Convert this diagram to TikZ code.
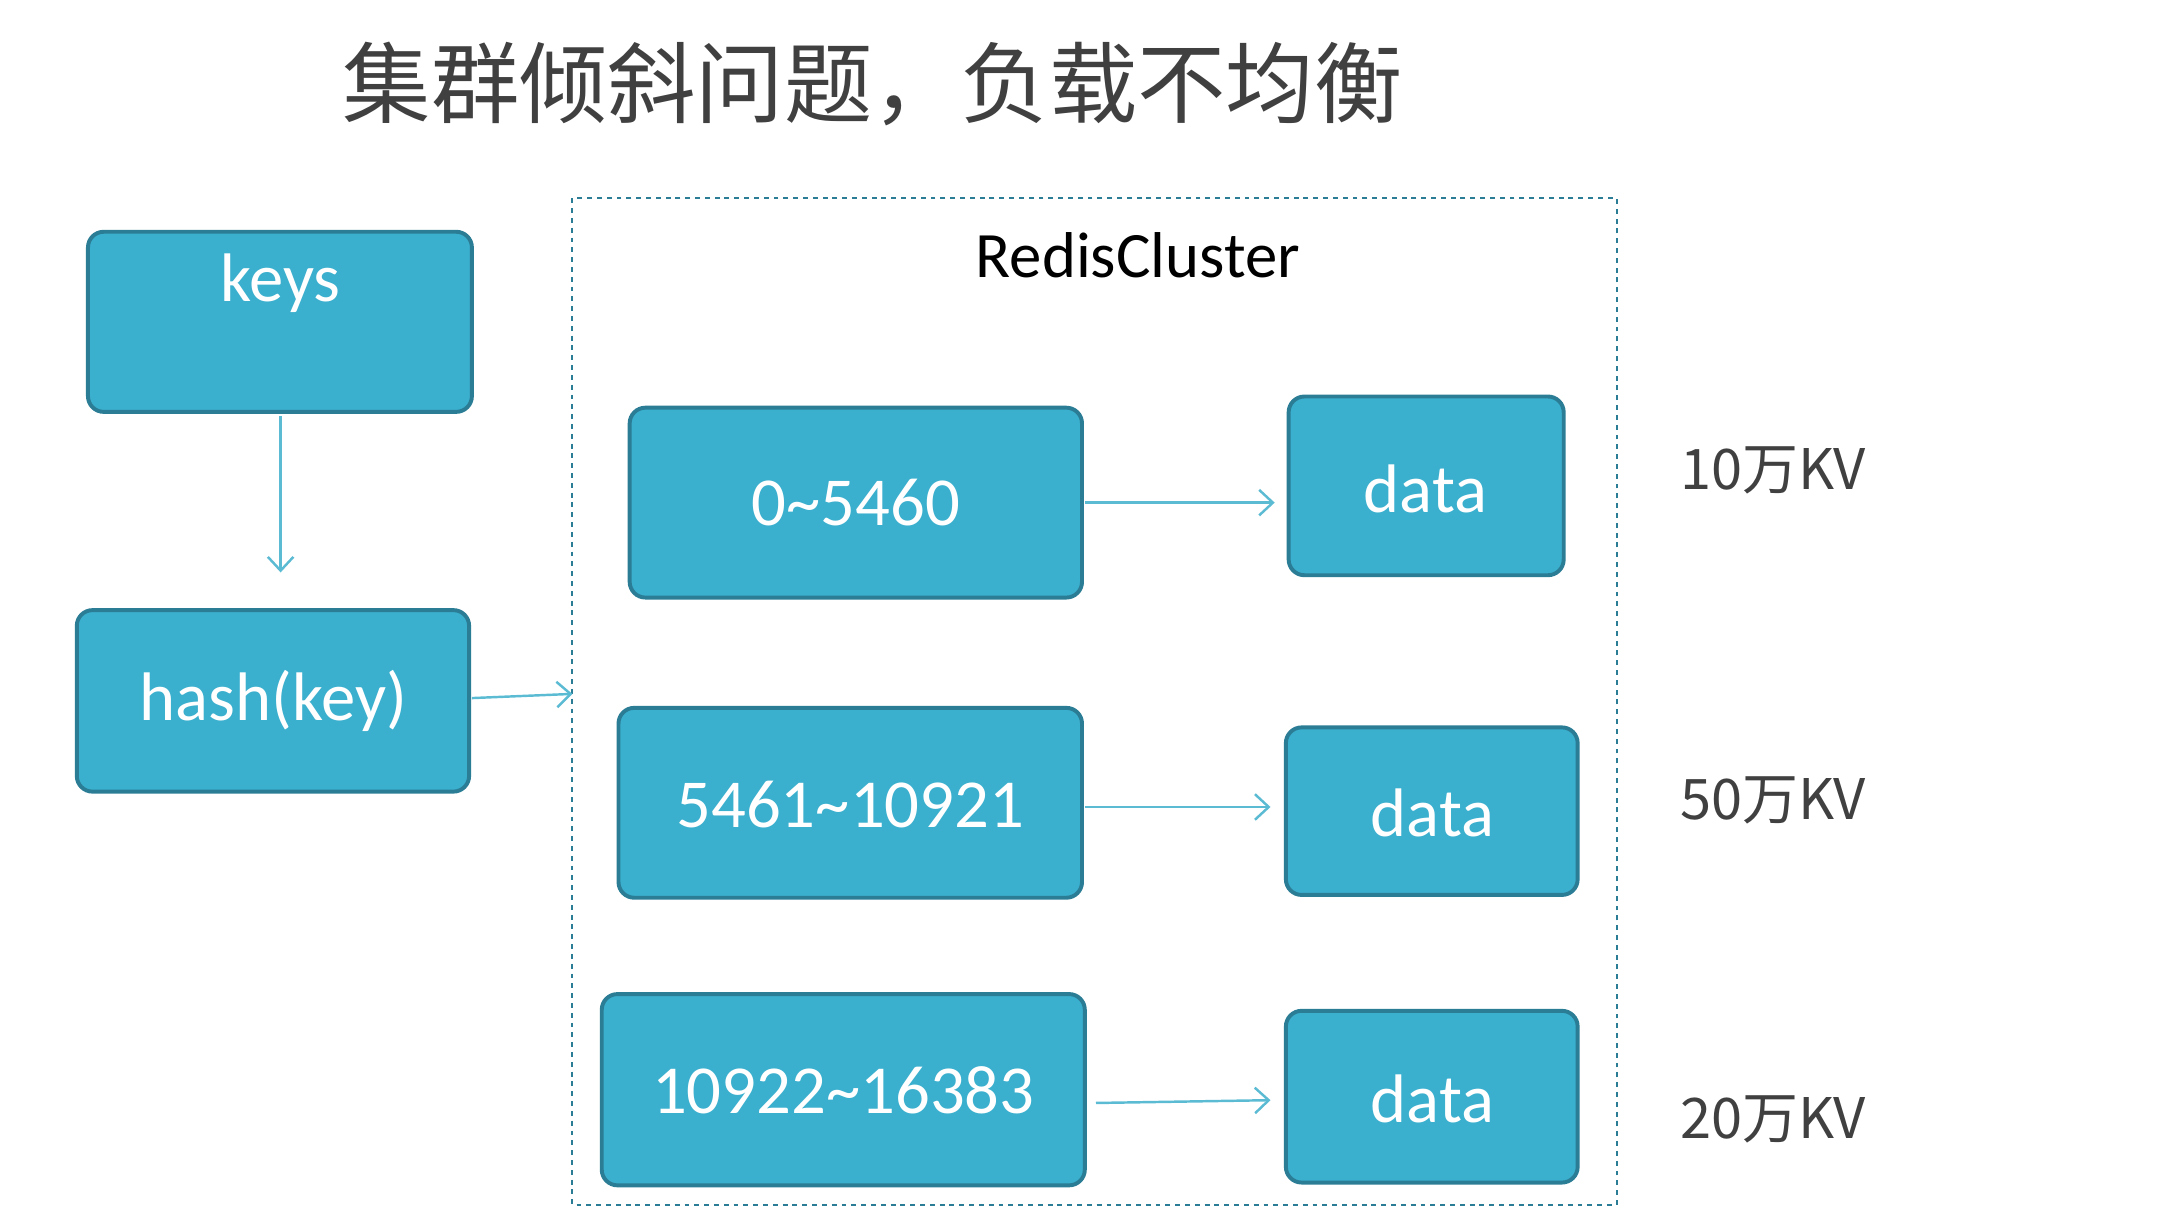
\documentclass[tikz,border=0pt]{standalone}
\usepackage{fontspec}
\setmainfont{Carlito}
\newfontfamily\cjk{Noto Sans CJK SC}
\usetikzlibrary{arrows.meta}
\definecolor{boxf}{HTML}{3AAFCE}
\definecolor{boxd}{HTML}{2B7D96}
\definecolor{arr}{HTML}{5BBBD3}
\definecolor{tgray}{HTML}{404040}
\begin{document}
\begin{tikzpicture}[x=0.05cm,y=-0.05cm,
 bx/.style={draw=boxd,line width=4pt,fill=boxf,rounded corners=16pt},
 bt/.style={text=white,font=\fontsize{70}{74}\selectfont},
 ar/.style={draw=arr,line width=2.5pt,-{Straight Barb[length=14pt,width=26pt,line width=2.5pt]}},
 lab/.style={text=tgray,font=\cjk\fontsize{57}{60}\selectfont}]
\useasboundingbox (0,0) rectangle (1560,881);
\node[text=tgray,font=\cjk\fontsize{90}{94}\selectfont] (title) at (625,60) {集群倾斜问题，负载不均衡};
\draw[draw=boxd,line width=2pt,dash pattern=on 5pt off 5pt] (410,142) rectangle (1158,863);
\node[font=\fontsize{66}{70}\selectfont] (rc) at (815,183) {RedisCluster};
\draw[bx] (63,166) rectangle (338,295);
\node[bt] (keys) at (201,203) {keys};
\draw[bx] (55,437) rectangle (336,567);
\node[bt] (hash) at (196,502) {hash(key)};
\coordinate (kb) at (201,298);
\coordinate (kh) at (201,410);
\coordinate (he) at (338,500);
\coordinate (cl) at (410,497);
\draw[ar] (kb) -- (kh);
\draw[ar] (he) -- (cl);
\draw[bx] (451,292) rectangle (775,428); \node[bt] (r1) at (613,360) {0\textasciitilde5460};
\draw[bx] (443,507) rectangle (775,643); \node[bt] (r2) at (609,576) {5461\textasciitilde10921};
\draw[bx] (431,712) rectangle (777,849); \node[bt] (r3) at (604,781) {10922\textasciitilde16383};
\draw[bx] (923,284) rectangle (1120,412); \node[bt] (d1) at (1021,350) {data};
\draw[bx] (921,521) rectangle (1130,641); \node[bt] (d2) at (1026,582) {data};
\draw[bx] (921,724) rectangle (1130,847); \node[bt] (d3) at (1026,787) {data};
\coordinate (a1) at (777,360); \coordinate (b1) at (913,360);
\coordinate (a2) at (777,578); \coordinate (b2) at (910,578);
\coordinate (a3) at (785,790); \coordinate (b3) at (910,788);
\draw[ar] (a1) -- (b1);
\draw[ar] (a2) -- (b2);
\draw[ar] (a3) -- (b3);
\node[lab] (l1) at (1270,337) {10万KV};
\node[lab] (l2) at (1270,573) {50万KV};
\node[lab] (l3) at (1270,802) {20万KV};
\end{tikzpicture}
\end{document}
